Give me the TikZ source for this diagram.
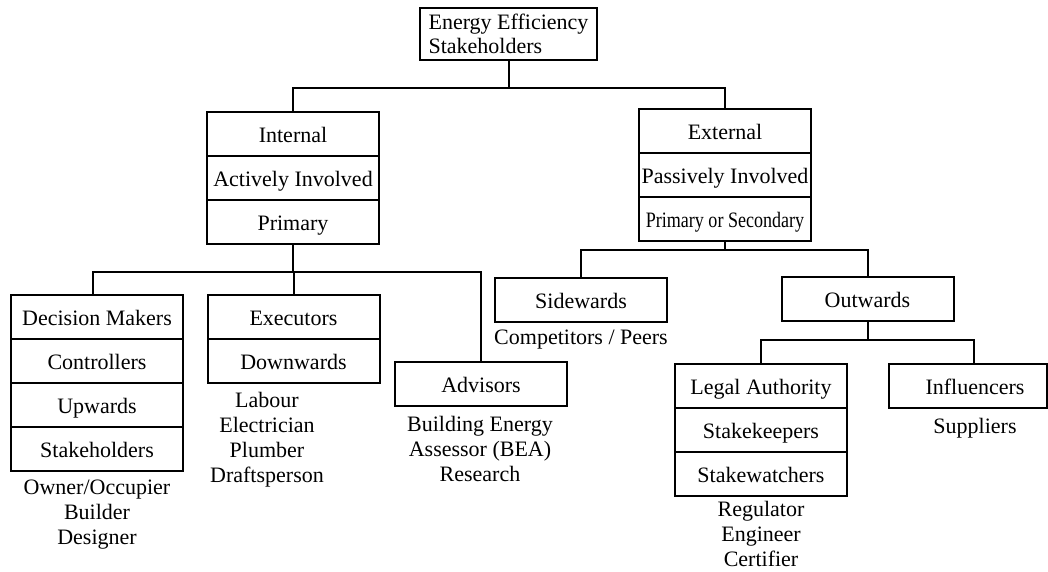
\documentclass[tikz,border=0pt]{standalone}
\usepackage{fontspec}
\setmainfont{Liberation Serif}
\begin{document}
\begin{tikzpicture}[x=1pt,y=-1pt, line width=2pt, line join=miter,
  cell/.style={draw, minimum width=172pt, minimum height=44pt, inner sep=0pt,
    font=\fontsize{22}{25}\selectfont, text height=17pt, text depth=0pt},
  lbl/.style={align=center, inner sep=0pt, font=\fontsize{22}{25}\selectfont}]
\useasboundingbox (0,0) rectangle (1048,572);

% top
\node[draw, minimum width=177pt, minimum height=52pt, inner xsep=9pt, inner ysep=0pt,
  align=left, font=\fontsize{22}{24}\selectfont] (top) at (508.5,34) {Energy Efficiency\\Stakeholders};

% internal
\node[cell] (int1) at (293,134) {Internal};
\node[cell] (int2) at (293,178) {Actively Involved};
\node[cell] (int3) at (293,222) {Primary};

% external
\node[cell] (ext1) at (725,131) {External};
\node[cell] (ext2) at (725,175) {Passively Involved};
\node[cell] (ext3) at (725,219) {\scalebox{0.82}[1]{Primary or Secondary}};

% decision makers
\node[cell] (dm1) at (97,317) {Decision Makers};
\node[cell] (dm2) at (97,361) {Controllers};
\node[cell] (dm3) at (97,405) {Upwards};
\node[cell] (dm4) at (97,449) {Stakeholders};

% executors
\node[cell] (ex1) at (293.5,317) {Executors};
\node[cell] (ex2) at (293.5,361) {Downwards};

% advisors
\node[cell] (adv) at (481,384) {Advisors};

% sidewards / outwards
\node[cell] (side) at (581,299.5) {Sidewards};
\node[cell] (out) at (867.5,298.5) {Outwards};

% legal authority
\node[cell] (leg1) at (761,386) {Legal Authority};
\node[cell] (leg2) at (761,430) {Stakekeepers};
\node[cell] (leg3) at (761,474) {Stakewatchers};

% influencers
\node[cell, minimum width=158pt] (infl) at (968,386) {\hspace*{14pt}Influencers};

% labels
\node[lbl] (lbdm) at (97,515) {Owner/Occupier\\Builder\\Designer};
\node[lbl] (lbex) at (267,439.5) {Labour\\Electrician\\Plumber\\Draftsperson};
\node[lbl] (lbadv) at (480,449) {Building Energy\\Assessor (BEA)\\Research};
\node[lbl] (lbside) at (581,340) {Competitors / Peers};
\node[lbl] (lbleg) at (761,534) {Regulator\\Engineer\\Certifier};
\node[lbl] (lbinfl) at (975,428) {Suppliers};

% bus levels
\coordinate (busA) at (0,88);
\coordinate (busB) at (0,272);
\coordinate (busC) at (0,250);
\coordinate (busD) at (0,340);

% connectors
\draw (top.south) -- (top.south |- busA);
\draw (int1.north) |- (ext1.north |- busA) -- (ext1.north);

\draw (int3.south) -- (int3.south |- busB);
\draw ([xshift=-4pt]dm1.north) |- (adv.north |- busB) -- (adv.north);
\draw (ex1.north) -- (ex1.north |- busB);

\draw (ext3.south) -- (ext3.south |- busC);
\draw (side.north) |- (out.north |- busC) -- (out.north);

\draw (out.south) -- (out.south |- busD);
\draw (leg1.north) |- ([xshift=6pt]infl.north |- busD) -- ([xshift=6pt]infl.north);
\end{tikzpicture}
\end{document}
